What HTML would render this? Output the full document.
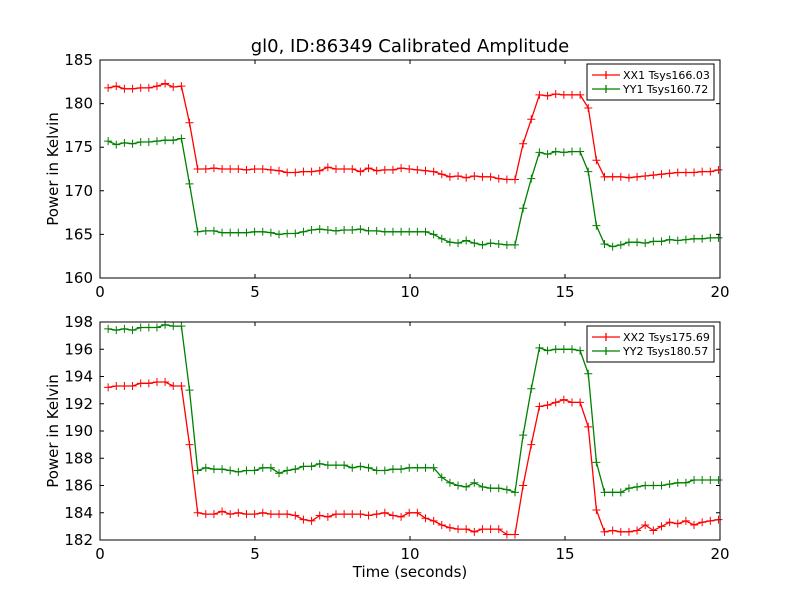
<!DOCTYPE html>
<html><head><meta charset="utf-8"><style>
body{margin:0;background:#fff;}
svg{display:block;font-family:"DejaVu Sans","Liberation Sans",sans-serif;}
</style></head><body>
<svg id="chart" width="800" height="600" viewBox="0 0 800 600" xmlns="http://www.w3.org/2000/svg">
<rect width="800" height="600" fill="#fff"/>
<text x="410" y="52" font-size="18" text-anchor="middle">gl0, ID:86349 Calibrated Amplitude</text>
<text x="410" y="577" font-size="15" text-anchor="middle">Time (seconds)</text>
<text transform="translate(58,169) rotate(-90)" font-size="15" text-anchor="middle">Power in Kelvin</text>
<text transform="translate(58,431) rotate(-90)" font-size="15" text-anchor="middle">Power in Kelvin</text>
<g id="g1"></g>
<g id="g2"></g>
</svg>
<script>
const xx1=[181.8,182.0,181.7,181.7,181.8,181.8,182.0,182.3,181.9,182.0,177.8,172.5,172.5,172.6,172.5,172.5,172.5,172.4,172.5,172.5,172.4,172.3,172.1,172.1,172.2,172.2,172.3,172.7,172.5,172.5,172.5,172.2,172.6,172.3,172.4,172.4,172.6,172.5,172.4,172.3,172.2,171.9,171.6,171.7,171.5,171.7,171.6,171.6,171.4,171.3,171.3,175.4,178.2,181.0,180.9,181.1,181.0,181.0,181.0,179.5,173.5,171.6,171.6,171.6,171.5,171.6,171.7,171.8,171.9,172.0,172.1,172.1,172.1,172.2,172.2,172.4];
const yy1=[175.7,175.3,175.5,175.4,175.6,175.6,175.7,175.8,175.8,176.0,170.8,165.3,165.4,165.4,165.2,165.2,165.2,165.2,165.3,165.3,165.2,165.0,165.1,165.1,165.3,165.5,165.6,165.5,165.4,165.5,165.5,165.6,165.4,165.4,165.3,165.3,165.3,165.3,165.3,165.3,165.0,164.5,164.1,164.0,164.3,164.0,163.8,164.0,163.9,163.8,163.8,168.0,171.4,174.4,174.2,174.5,174.4,174.5,174.5,172.2,166.0,163.9,163.6,163.8,164.1,164.1,164.0,164.2,164.2,164.4,164.3,164.4,164.5,164.5,164.6,164.6];
const xx2=[193.2,193.3,193.3,193.3,193.5,193.5,193.6,193.6,193.3,193.3,189.0,184.0,183.9,183.9,184.1,183.9,184.0,183.9,183.9,184.0,183.9,183.9,183.9,183.8,183.5,183.4,183.8,183.7,183.9,183.9,183.9,183.9,183.8,183.9,184.0,183.8,183.7,184.0,184.0,183.6,183.4,183.1,182.9,182.8,182.8,182.6,182.8,182.8,182.8,182.4,182.4,186.0,189.0,191.8,191.9,192.1,192.3,192.1,192.1,190.3,184.2,182.6,182.7,182.6,182.6,182.7,183.1,182.7,183.0,183.3,183.2,183.4,183.1,183.3,183.4,183.5];
const yy2=[197.5,197.4,197.5,197.4,197.6,197.6,197.6,197.8,197.7,197.7,193.0,187.1,187.3,187.2,187.2,187.1,187.0,187.1,187.1,187.3,187.3,186.9,187.1,187.2,187.4,187.4,187.6,187.5,187.5,187.5,187.3,187.4,187.3,187.1,187.1,187.2,187.2,187.3,187.3,187.3,187.3,186.6,186.2,186.0,185.9,186.2,185.9,185.8,185.8,185.7,185.5,189.7,193.1,196.1,195.9,196.0,196.0,196.0,195.9,194.2,187.7,185.5,185.5,185.5,185.8,185.9,186.0,186.0,186.0,186.1,186.2,186.2,186.4,186.4,186.4,186.4];
const timeStep=0.2625;
const xTicks=[0,5,10,15,20];
const yTicks1=[160,165,170,175,180,185];
const yTicks2=[182,184,186,188,190,192,194,196,198];
const legend1=["XX1 Tsys166.03","YY1 Tsys160.72"];
const legend2=["XX2 Tsys175.69","YY2 Tsys180.57"];
const NS="http://www.w3.org/2000/svg";
function mk(tag,attrs,parent){const e=document.createElementNS(NS,tag);for(const k in attrs)e.setAttribute(k,attrs[k]);parent.appendChild(e);return e;}
function panel(g,top,bottom,ymin,ymax,yTicks,series,colors,labels,key){
  const L=100,R=720;
  const sx=t=>L+(t-0)/(20-0)*(R-L);
  const sy=v=>bottom-(v-ymin)/(ymax-ymin)*(bottom-top);
  series.forEach((s,si)=>{
    const pts=s.map((v,i)=>sx(timeStep*(i+1)).toFixed(1)+","+sy(v).toFixed(1)).join(" ");
    const pl=mk("polyline",{points:pts,fill:"none",stroke:colors[si],"stroke-width":1.3},g);
    
    
    s.forEach((v,i)=>{
      const x=sx(timeStep*(i+1)),y=sy(v);
      const m=mk("path",{d:`M${x-4},${y}H${x+4}M${x},${y-4}V${y+4}`,stroke:colors[si],"stroke-width":1},g);
      
      
    });
  });
  const fr=mk("rect",{x:L,y:top,width:R-L,height:bottom-top,fill:"none",stroke:"#000","stroke-width":1},g);
  
  
  xTicks.forEach(t=>{
    const x=sx(t);
    mk("path",{d:`M${x},${bottom}v-4M${x},${top}v4`,stroke:"#000"},g);
    const tx=mk("text",{x:x,y:bottom+19,"font-size":15,"text-anchor":"middle"},g);
    tx.textContent=t;
    
    
  });
  yTicks.forEach(v=>{
    const y=sy(v);
    mk("path",{d:`M${L},${y}h4M${R},${y}h-4`,stroke:"#000"},g);
    const tx=mk("text",{x:L-7,y:y+5,"font-size":15,"text-anchor":"end"},g);
    tx.textContent=v;
    
    
  });
  const lg=mk("g",{},g);
  
  
  mk("rect",{x:587,y:top+4,width:127,height:36,fill:"#fff",stroke:"#000","stroke-width":1},lg);
  labels.forEach((lab,i)=>{
    const y=top+15+i*14;
    mk("path",{d:`M592,${y}h28M606,${y-4}v8`,stroke:colors[i],"stroke-width":1.3},lg);
    const tx=mk("text",{x:623,y:y+4,"font-size":11},lg);
    tx.textContent=lab;
    
    
  });
}
panel(document.getElementById("g1"),60,278,160,185,yTicks1,[xx1,yy1],["#ff0000","#008000"],legend1,"top");
panel(document.getElementById("g2"),322,540,182,198,yTicks2,[xx2,yy2],["#ff0000","#008000"],legend2,"bottom");
</script>
</body></html>
